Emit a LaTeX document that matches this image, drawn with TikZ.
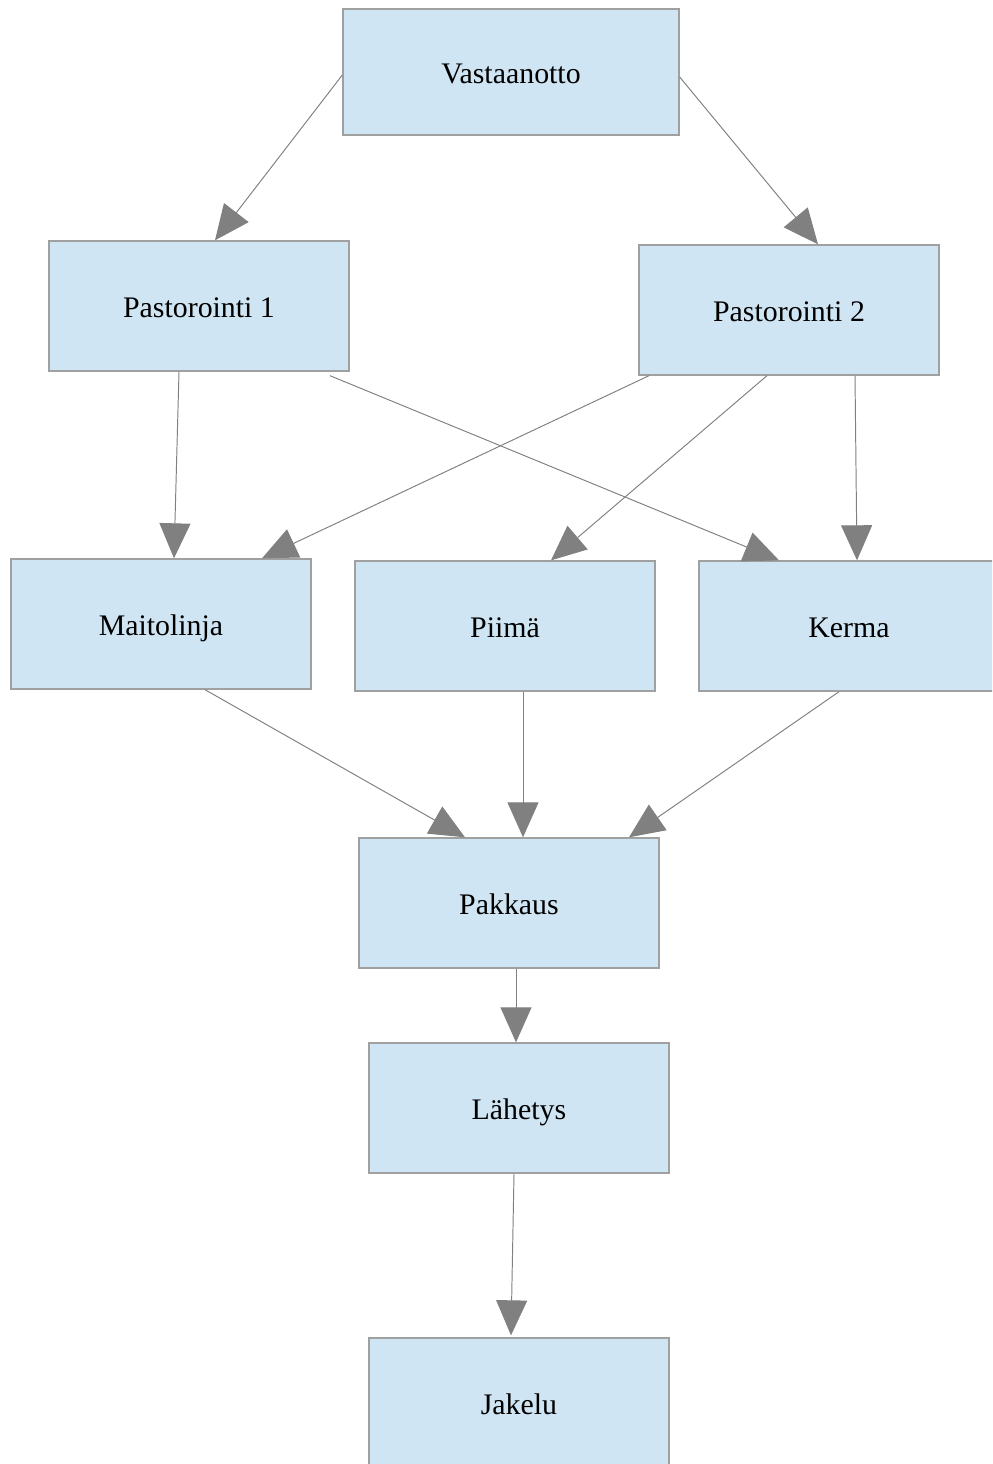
\documentclass[tikz,border=0pt]{standalone}
\usepackage{fontspec}
\setmainfont{Liberation Serif}
\usetikzlibrary{arrows.meta,calc}
\definecolor{boxfill}{RGB}{207,229,243}
\definecolor{boxline}{RGB}{160,160,160}
\definecolor{arrowgray}{RGB}{128,128,128}

\begin{document}
\begin{tikzpicture}[x=0.02cm,y=-0.02cm,
	box/.style={draw=boxline,line width=0.8pt,fill=boxfill,minimum width=6cm,minimum height=2.6cm,inner sep=0pt,text height=0.44cm,text depth=0pt,font=\fontsize{17}{20}\selectfont},
	flow/.style={draw=arrowgray,line width=0.55pt,-{Triangle[length=0.7cm,width=0.62cm]}}]
	
	% Page
	\useasboundingbox (0,0) rectangle (992,1464);
	\clip (0,0) rectangle (992,1464);
	
	% Stations
	\node[box,minimum width=6.72cm,minimum height=2.52cm] (vast) at (511,72) {Vastaanotto};
	\node[box] (past1) at (199,306) {Pastorointi 1};
	\node[box] (past2) at (789,310) {Pastorointi 2};
	\node[box] (maito) at (161,624) {Maitolinja};
	\node[box] (piima) at (505,626) {Piimä};
	\node[box] (kerma) at (849,626) {Kerma};
	\node[box] (pakk) at (509,903) {Pakkaus};
	\node[box] (lahe) at (519,1108) {Lähetys};
	\node[box] (jak) at (519,1403) {Jakelu};
	
	% Flows out of the reception
	\draw[flow] ($(vast.west)+(0,3)$) -- ($(past1.north)+(16,0)$);
	\draw[flow] ($(vast.east)+(0,5)$) -- ($(past2.north)+(29,0)$);
	
	% Flows out of the pasteurisers
	\draw[flow] ($(past1.south)+(-20,0)$) -- ($(maito.north)+(13,0)$);
	\draw[flow] ($(past1.south)+(131,4)$) -- ($(kerma.north)+(-70,0)$);
	\draw[flow] ($(past2.south)+(-140,0)$) -- ($(maito.north)+(101,0)$);
	\draw[flow] ($(past2.south)+(-22,0)$) -- ($(piima.north)+(46,0)$);
	\draw[flow] ($(past2.south)+(66,0)$) -- ($(kerma.north)+(8,0)$);
	
	% Into packing
	\draw[flow] ($(maito.south)+(44,0)$) -- ($(pakk.north)+(-44,0)$);
	\draw[flow] ($(piima.south)+(18,0)$) -- ($(pakk.north)+(14,0)$);
	\draw[flow] ($(kerma.south)+(-10,0)$) -- ($(pakk.north)+(120,0)$);
	
	% Out to distribution
	\draw[flow] ($(pakk.south)+(7,0)$) -- ($(lahe.north)+(-3,0)$);
	\draw[flow] ($(lahe.south)+(-5,0)$) -- ($(jak.north)+(-8,-2)$);
\end{tikzpicture}
\end{document}
